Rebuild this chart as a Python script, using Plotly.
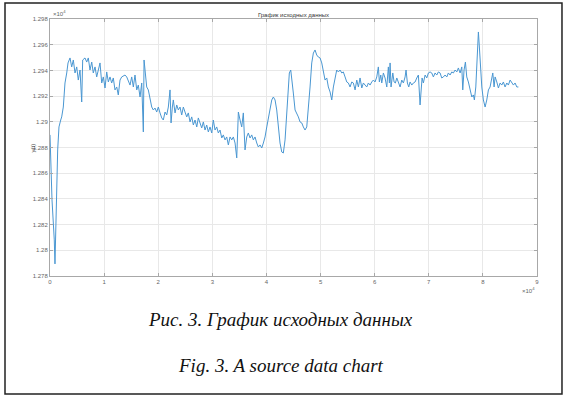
import plotly.graph_objects as go

# sample index, in units of 1e4
t_e4 = [0, 0.037, 0.079, 0.092, 0.142, 0.166, 0.198, 0.216, 0.246, 0.264, 0.277, 0.309, 0.333, 0.370, 0.401, 0.431,
        0.462, 0.494, 0.523, 0.555, 0.586, 0.604, 0.647, 0.678, 0.708, 0.739, 0.771, 0.800, 0.832, 0.863, 0.893,
        0.924, 0.956, 0.985, 1.017, 1.048, 1.078, 1.109, 1.140, 1.170, 1.201, 1.233, 1.262, 1.294, 1.325, 1.386,
        1.418, 1.447, 1.479, 1.510, 1.540, 1.571, 1.603, 1.632, 1.664, 1.695, 1.713, 1.725, 1.738, 1.756, 1.787,
        1.817, 1.848, 1.880, 1.909, 1.941, 1.972, 2.002, 2.033, 2.065, 2.094, 2.126, 2.157, 2.187, 2.218, 2.237,
        2.261, 2.279, 2.311, 2.342, 2.372, 2.403, 2.434, 2.464,
        2.495, 2.527, 2.556, 2.588, 2.619, 2.649, 2.680, 2.712, 2.741, 2.773, 2.804, 2.834, 2.865, 2.896, 2.926,
        2.957, 2.989, 3.018, 3.050, 3.081, 3.111, 3.142, 3.174, 3.203, 3.235, 3.266, 3.296, 3.327, 3.359, 3.388,
        3.420, 3.451, 3.462, 3.481, 3.512, 3.543, 3.573, 3.604, 3.636, 3.665, 3.697, 3.728, 3.758, 3.789, 3.821,
        3.850, 3.882, 3.913, 3.943, 3.974, 4.006, 4.035, 4.067, 4.098, 4.128, 4.159, 4.190, 4.220, 4.251, 4.283,
        4.312, 4.344, 4.375, 4.405, 4.423, 4.449, 4.466, 4.497, 4.529, 4.560, 4.590, 4.621, 4.653, 4.682, 4.713,
        4.745, 4.775, 4.806, 4.837, 4.867, 4.898, 4.929, 4.959, 4.991,
        5.022, 5.052, 5.083, 5.115, 5.144, 5.176, 5.207, 5.237, 5.268, 5.299, 5.329, 5.360, 5.392, 5.421, 5.453,
        5.484, 5.514, 5.545, 5.577, 5.606, 5.638, 5.669, 5.699, 5.730, 5.762, 5.791, 5.823, 5.854, 5.884, 5.915,
        5.946, 5.976, 6.007, 6.039, 6.068, 6.087, 6.113, 6.131, 6.161, 6.192, 6.224, 6.253, 6.272, 6.285, 6.303,
        6.335, 6.359, 6.383, 6.409, 6.438, 6.470, 6.501, 6.531, 6.562, 6.580, 6.605, 6.630, 6.654, 6.686, 6.715,
        6.747, 6.778, 6.808, 6.839, 6.858, 6.876, 6.900, 6.932, 6.963, 6.993, 7.024, 7.055, 7.085, 7.116, 7.148,
        7.177, 7.209,
        7.240, 7.270, 7.301, 7.333, 7.362, 7.394, 7.425, 7.455, 7.486, 7.518, 7.547, 7.579, 7.610, 7.628, 7.652,
        7.677, 7.702, 7.732, 7.763, 7.795, 7.824, 7.843, 7.869, 7.887, 7.906, 7.917, 7.935, 7.948, 7.980, 8.009,
        8.041, 8.072, 8.102, 8.133, 8.165, 8.183, 8.207, 8.226, 8.257, 8.287, 8.318, 8.349, 8.379, 8.410, 8.442,
        8.471, 8.503, 8.534, 8.564, 8.595, 8.627, 8.656]

y_values = [12889.8, 12839.2, 12808.1, 12789.4, 12878.1, 12896.0, 12901.4, 12903.8, 12911.5, 12922.4, 12930.2,
            12938.0, 12945.8, 12949.7, 12942.7, 12948.1, 12938.0, 12942.7, 12932.5, 12940.3, 12915.4, 12948.1,
            12949.7, 12946.5, 12949.7, 12940.3, 12946.5, 12938.0, 12942.7, 12934.9, 12940.3, 12945.8, 12930.2,
            12934.9, 12926.3, 12938.8, 12931.0, 12934.9, 12930.2, 12934.1, 12924.8, 12927.1, 12920.9, 12932.5,
            12934.9, 12936.4, 12934.9, 12932.5, 12928.6, 12934.9, 12927.1, 12936.4, 12924.8, 12928.6, 12919.3,
            12930.2, 12914.6, 12892.1, 12948.1, 12938.0, 12927.1, 12924.8, 12918.5, 12911.5, 12909.2, 12910.7,
            12907.6, 12911.5, 12906.9, 12903.0, 12901.4, 12907.6, 12905.3, 12911.5, 12924.8, 12899.1, 12911.5,
            12917.0, 12906.9, 12913.1, 12909.2, 12911.5, 12905.3, 12911.5,
            12907.6, 12903.8, 12906.9, 12899.9, 12903.8, 12897.5, 12901.4, 12896.0, 12903.0, 12899.1, 12895.2,
            12899.9, 12893.6, 12897.5, 12892.1, 12896.0, 12891.3, 12901.4, 12893.6, 12896.0, 12891.3, 12893.6,
            12887.4, 12889.8, 12885.9, 12888.2, 12882.0, 12888.2, 12885.9, 12888.2, 12883.5, 12871.9, 12893.6,
            12907.6, 12901.4, 12896.0, 12906.9, 12878.1, 12888.2, 12891.3, 12887.4, 12889.8, 12885.9, 12888.2,
            12883.5, 12880.4, 12882.0, 12879.6, 12883.5, 12888.2, 12896.0, 12903.8, 12911.5, 12917.0, 12919.3,
            12917.0, 12909.2, 12893.6, 12883.5, 12876.5, 12875.7, 12885.9, 12909.2, 12930.2, 12938.0, 12940.3,
            12934.9, 12922.4, 12909.2, 12906.9, 12903.8, 12899.9, 12899.1, 12896.0, 12893.6, 12896.0, 12909.2,
            12927.1, 12945.8, 12953.5, 12955.9, 12952.0, 12950.4, 12949.7,
            12945.8, 12938.0, 12932.5, 12934.1, 12927.1, 12923.2, 12917.0, 12927.1, 12934.9, 12940.3, 12938.8,
            12940.3, 12938.0, 12938.8, 12934.9, 12931.0, 12930.2, 12927.1, 12931.0, 12930.2, 12924.8, 12932.5,
            12927.1, 12934.1, 12926.3, 12930.2, 12928.6, 12927.1, 12930.2, 12928.6, 12931.0, 12932.5, 12931.0,
            12934.9, 12942.7, 12931.0, 12936.4, 12930.2, 12938.0, 12934.1, 12927.1, 12942.7, 12930.2, 12945.8,
            12927.1, 12938.0, 12931.0, 12930.2, 12934.1, 12931.0, 12927.1, 12932.5, 12930.2, 12934.9, 12940.3,
            12930.2, 12927.1, 12931.0, 12928.6, 12930.2, 12931.0, 12934.1, 12936.4, 12913.1, 12927.1, 12934.1,
            12930.2, 12936.4, 12934.1, 12938.0, 12938.8, 12938.0, 12934.9, 12938.0, 12936.4, 12938.8, 12938.0,
            12934.1, 12934.9, 12936.4, 12934.9, 12938.0, 12936.4, 12938.8, 12938.0, 12940.3, 12938.8, 12941.9,
            12938.0, 12942.7, 12924.8, 12940.3, 12946.5, 12934.9, 12931.0, 12926.3, 12919.3, 12920.9, 12917.0,
            12927.1, 12948.1, 12963.7, 12969.9, 12958.2, 12945.8, 12927.1, 12917.0, 12911.5, 12917.0, 12924.8,
            12927.1, 12934.9, 12938.0, 12927.1, 12934.9, 12931.0, 12926.3, 12930.2, 12928.6, 12931.0, 12927.1,
            12930.2, 12928.6, 12932.5, 12930.2, 12928.6, 12930.2, 12927.1, 12927.1]

x_ticks = [0, 1, 2, 3, 4, 5, 6, 7, 8, 9]
y_ticks = [12780, 12800, 12820, 12840, 12860, 12880, 12900, 12920, 12940, 12960, 12980]
y_tick_labels = ["1.278", "1.28", "1.282", "1.284", "1.286", "1.288", "1.29", "1.292", "1.294", "1.296", "1.298"]

title_text = "График исходных данных"
y_title = "y(t)"
caption_ru = "Рис. 3. График исходных данных"
caption_en = "Fig. 3. A source data chart"

fig = go.Figure()
fig.add_trace(go.Scatter(x=t_e4, y=y_values, mode="lines",
                         line=dict(color="#4a97d2", width=1), showlegend=False))

axis_common = dict(showgrid=True, gridcolor="#e8e8e8", gridwidth=1, zeroline=False,
                   showline=True, linecolor="#a8a8a8", linewidth=1, mirror="ticks",
                   ticks="inside", ticklen=3, tickcolor="#a8a8a8",
                   tickfont=dict(family="Liberation Sans", size=6, color="#666666"))

fig.update_xaxes(range=[0, 9], tickvals=x_ticks, ticktext=[str(v) for v in x_ticks], **axis_common)
fig.update_yaxes(range=[12780, 12980], tickvals=y_ticks, ticktext=y_tick_labels, **axis_common)

fig.update_layout(
    width=563, height=396,
    margin=dict(l=50, r=26, t=19, b=120),
    paper_bgcolor="white", plot_bgcolor="white",
    title=dict(text=title_text, xref="paper", x=0.5, xanchor="center",
               yref="container", y=1 - 15 / 396, yanchor="middle",
               font=dict(family="Liberation Sans", size=6, color="#333333")),
    shapes=[dict(type="rect", xref="paper", yref="paper",
                 x0=-0.0924, x1=1.0513, y0=-0.4591, y1=1.0623,
                 line=dict(color="#222222", width=1.5))],
    annotations=[
        dict(text=y_title, xref="paper", yref="paper", x=-0.035, y=0.5, textangle=-90,
             showarrow=False, xanchor="center", font=dict(family="Liberation Sans", size=6, color="#444444")),
        dict(text="×10<sup>4</sup>", xref="paper", yref="paper", x=0.0, y=1.0, xanchor="left", yanchor="bottom",
             showarrow=False, xshift=1, font=dict(family="Liberation Sans", size=6, color="#666666")),
        dict(text="×10<sup>4</sup>", xref="paper", yref="paper", x=1.0, y=0.0, xanchor="right", yanchor="top",
             showarrow=False, yshift=-8, font=dict(family="Liberation Sans", size=6, color="#666666")),
        dict(text="<i>" + caption_ru + "</i>", xref="paper", yref="paper", x=0.474, y=-0.218,
             showarrow=False, font=dict(family="Liberation Serif", size=19, color="#111111")),
        dict(text="<i>" + caption_en + "</i>", xref="paper", yref="paper", x=0.474, y=-0.397,
             showarrow=False, font=dict(family="Liberation Serif", size=19, color="#111111")),
    ],
)

fig.write_html("out.html", config={"displayModeBar": False},
               post_script="document.body.style.margin='0';document.body.style.padding='0';")
